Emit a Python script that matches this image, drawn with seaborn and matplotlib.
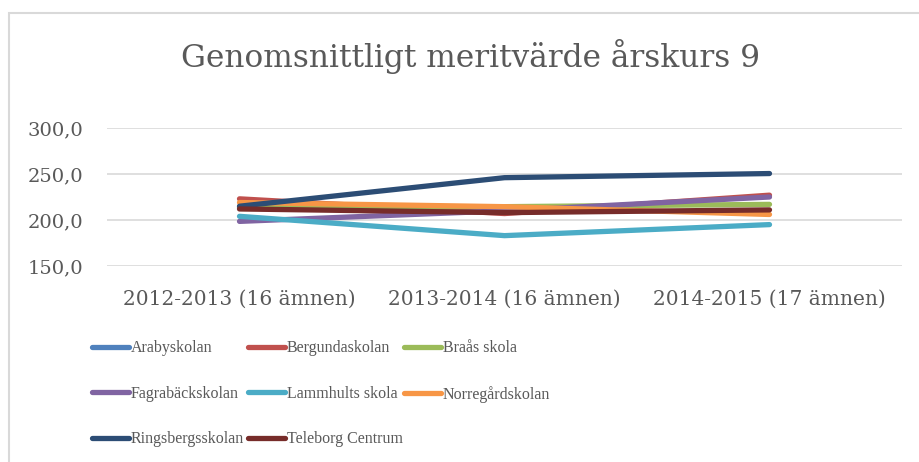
#!/usr/bin/env python3
"""Genomsnittligt meritvärde årskurs 9 – line chart per school."""

import matplotlib.pyplot as plt
import numpy as np
import pandas as pd
import seaborn as sns
from matplotlib.lines import Line2D
from matplotlib.patches import Rectangle

years = ["2012-2013 (16 ämnen)", "2013-2014 (16 ämnen)", "2014-2015 (17 ämnen)"]
schools = [
    "Arabyskolan", "Bergundaskolan", "Braås skola", "Fagrabäckskolan",
    "Lammhults skola", "Norregårdskolan", "Ringsbergsskolan", "Teleborg Centrum",
]
arabyskolan = [np.nan, np.nan, np.nan]
bergundaskolan = [223.0, 207.0, 227.0]
braas_skola = [214.0, 214.5, 217.0]
fagrabackskolan = [198.5, 210.0, 225.0]
lammhults_skola = [204.0, 183.0, 195.0]
norregardskolan = [219.0, 214.5, 206.0]
ringsbergsskolan = [215.0, 246.0, 250.5]
teleborg_centrum = [212.0, 208.0, 211.0]
colors = ["#4F81BD", "#C0504D", "#9BBB59", "#8064A2",
          "#4BACC6", "#F79646", "#2C4D75", "#772C2A"]

series = [arabyskolan, bergundaskolan, braas_skola, fagrabackskolan,
          lammhults_skola, norregardskolan, ringsbergsskolan, teleborg_centrum]
df = pd.DataFrame(
    [(s, y, v) for s, vals in zip(schools, series) for y, v in zip(years, vals)],
    columns=["skola", "läsår", "meritvärde"],
).dropna()

sns.set_theme(style="white")
plt.rcParams["font.family"] = ["DejaVu Serif"]
grey = "#595959"

fig = plt.figure(figsize=(9.19, 4.62), dpi=100)
ax = fig.add_axes([107 / 919, 1 - 266 / 462, 795 / 919, 138 / 462])
palette = dict(zip(schools, colors))
sns.lineplot(data=df, x="läsår", y="meritvärde", hue="skola",
             hue_order=[s for s in schools if s in set(df["skola"])],
             palette=palette, linewidth=3.8, sort=False, legend=False, ax=ax)
for line in ax.lines:
    line.set_solid_capstyle("round")

ax.set_xlim(-0.5, 2.5)
ax.set_ylim(150, 300)
ax.set_yticks([150, 200, 250, 300])
ax.set_yticklabels(["150,0", "200,0", "250,0", "300,0"])
ax.grid(axis="y", color="#D9D9D9", linewidth=1.2)
ax.set_axisbelow(True)
for side in ax.spines.values():
    side.set_visible(False)
ax.set_xlabel("")
ax.set_ylabel("")
ax.tick_params(axis="both", length=0, labelsize=14, colors=grey)
ax.tick_params(axis="x", labelsize=14.5, pad=17)
ax.tick_params(axis="y", pad=17)

fig.text(0.5125, 1 - 57 / 462, "Genomsnittligt meritvärde årskurs 9",
         ha="center", va="center", fontsize=22.5, color=grey)

# legend: three columns placed separately so the column pitch matches
handles = [Line2D([0], [0], color=c, linewidth=3.8, solid_capstyle="round")
           for c in colors]
columns = [[0, 3, 6], [1, 4, 7], [2, 5]]
col_x = [86, 242, 398]
for xpos, idx in zip(col_x, columns):
    fig.legend([handles[i] for i in idx], [schools[i] for i in idx],
               loc="upper left", bbox_to_anchor=(xpos / 919, 1 - 334 / 462),
               ncol=1, frameon=False, labelcolor=grey,
               prop={"family": "Liberation Serif", "size": 11.5},
               handlelength=2.3, handletextpad=0.1, labelspacing=1.85,
               borderaxespad=0, borderpad=0.4)

fig.add_artist(Rectangle((8.5 / 919, -0.05), 2, 1 - 13 / 462 + 0.05,
                         transform=fig.transFigure, fill=False,
                         edgecolor="#D9D9D9", linewidth=1.5))

fig.savefig("out.png", dpi=100)
